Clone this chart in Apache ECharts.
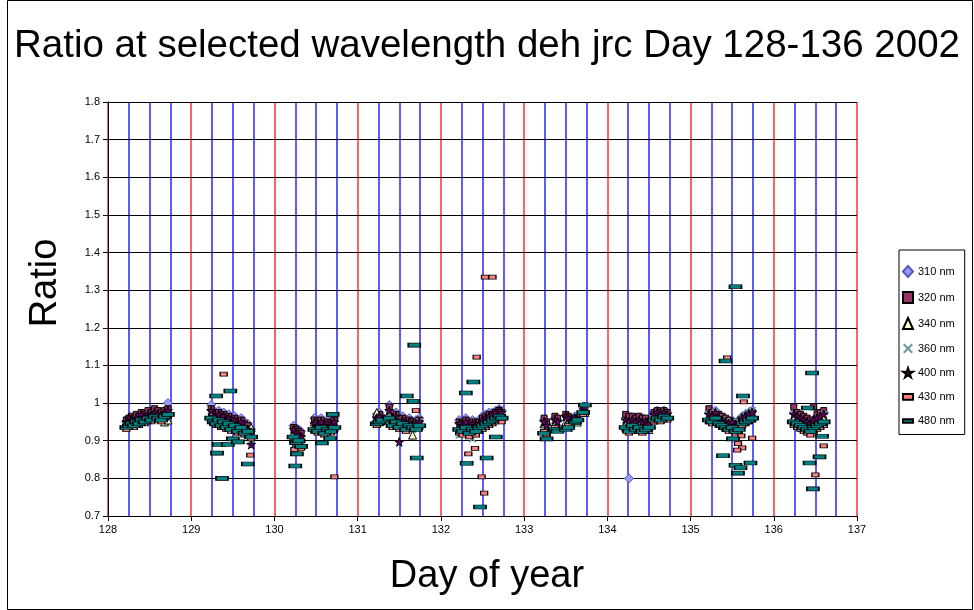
<!DOCTYPE html>
<html>
<head>
<meta charset="utf-8">
<title>Ratio at selected wavelength</title>
<script src="https://cdn.jsdelivr.net/npm/echarts@6/dist/echarts.min.js"></script>
<style>
    html, body { margin: 0; padding: 0; background: #fff; }
    #chart { width: 974px; height: 610px; }
</style>
</head>
<body>
<div id="chart"></div>
<script>
// measurement times (day of year), shared by all wavelengths
const times = [
    128.22,128.25,128.28,128.31,128.34,128.37,128.40,128.44,128.48,128.52,128.56,128.60,128.64,128.68,128.72,
    129.24,129.27,129.30,129.33,129.36,129.39,129.42,129.45,129.48,129.52,129.56,129.60,129.64,129.68,129.72,
    130.23,130.26,130.29,130.32,130.48,130.52,130.56,130.60,130.64,130.68,130.72,
    131.23,131.26,131.29,131.38,131.42,131.46,131.50,131.54,131.58,131.62,131.66,131.70,131.74,
    132.22,132.26,132.30,132.34,132.38,132.42,132.46,132.50,132.54,132.58,132.62,132.66,132.70,132.73,
    133.24,133.27,133.37,133.40,133.50,133.53,133.61,133.64,133.71,133.73,
    134.22,134.26,134.30,134.34,134.38,134.42,134.46,134.50,134.56,134.60,134.64,134.68,134.72,
    135.22,135.26,135.30,135.34,135.38,135.42,135.46,135.50,135.54,135.58,135.62,135.66,135.70,135.74,
    136.24,136.28,136.32,136.36,136.40,136.44,136.48,136.52,136.56,136.60
];

// ratios per wavelength, one line per day
const r310 = [
    0.95,0.955,0.96,0.955,0.965,0.96,0.97,0.965,0.975,0.97,0.98,0.975,0.97,0.98,1.0,
    0.995,0.98,0.975,0.98,0.97,0.975,0.965,0.97,0.96,0.965,0.955,0.96,0.95,0.945,0.93,
    0.94,0.935,0.93,0.925,0.96,0.955,0.96,0.95,0.955,0.95,0.96,
    0.97,0.975,0.965,0.995,0.97,0.975,0.96,0.965,0.955,0.96,0.95,0.955,0.96,
    0.955,0.95,0.96,0.945,0.955,0.95,0.955,0.965,0.97,0.975,0.975,0.98,0.985,0.98,
    0.955,0.945,0.96,0.955,0.965,0.96,0.965,0.96,0.985,0.99,
    0.96,0.8,0.96,0.955,0.96,0.955,0.955,0.95,0.975,0.98,0.975,0.98,0.975,
    0.975,0.97,0.98,0.965,0.96,0.955,0.95,0.955,0.945,0.955,0.965,0.97,0.975,0.98,
    0.975,0.97,0.965,0.96,0.955,0.95,0.955,0.965,0.97,0.975
];
const r320 = [
    0.955,0.96,0.965,0.96,0.97,0.965,0.975,0.97,0.98,0.975,0.985,0.98,0.975,0.98,0.985,
    0.985,0.975,0.97,0.975,0.965,0.97,0.96,0.965,0.955,0.96,0.95,0.955,0.945,0.94,0.925,
    0.935,0.93,0.925,0.92,0.955,0.95,0.955,0.945,0.95,0.945,0.955,
    0.965,0.97,0.96,0.99,0.965,0.97,0.955,0.96,0.95,0.955,0.95,0.95,0.955,
    0.95,0.945,0.955,0.94,0.95,0.945,0.95,0.96,0.965,0.97,0.97,0.975,0.98,0.975,
    0.96,0.95,0.965,0.96,0.97,0.965,0.96,0.955,0.98,0.985,
    0.97,0.965,0.965,0.96,0.965,0.96,0.96,0.95,0.975,0.98,0.975,0.98,0.975,
    0.985,0.975,0.97,0.97,0.965,0.96,0.955,0.95,0.95,0.95,0.96,0.965,0.97,0.975,
    0.99,0.975,0.97,0.965,0.96,0.955,0.99,0.97,0.975,0.98
];
const r340 = [
    0.945,0.95,0.955,0.95,0.96,0.955,0.965,0.96,0.97,0.965,0.975,0.97,0.965,0.95,0.955,
    0.97,0.955,0.95,0.96,0.945,0.955,0.94,0.95,0.935,0.945,0.93,0.94,0.93,0.92,0.935,
    0.92,0.915,0.91,0.905,0.95,0.94,0.945,0.935,0.94,0.935,0.945,
    0.975,0.96,0.955,0.975,0.955,0.96,0.945,0.95,0.94,0.945,0.915,0.94,0.945,
    0.94,0.935,0.945,0.93,0.94,0.935,0.94,0.95,0.955,0.96,0.965,0.97,0.975,0.97,
    0.945,0.935,0.945,0.94,0.95,0.945,0.955,0.95,0.98,0.975,
    0.945,0.94,0.95,0.945,0.945,0.94,0.94,0.93,0.955,0.96,0.96,0.965,0.965,
    0.965,0.96,0.965,0.955,0.95,0.945,0.94,0.945,0.935,0.94,0.955,0.96,0.965,0.97,
    0.96,0.955,0.95,0.945,0.94,0.935,0.945,0.95,0.955,0.96
];
const r360 = [
    0.94,0.945,0.95,0.945,0.955,0.95,0.96,0.955,0.965,0.96,0.97,0.965,0.96,0.97,0.975,
    0.965,0.95,0.945,0.955,0.94,0.95,0.935,0.945,0.93,0.94,0.925,0.935,0.925,0.915,0.9,
    0.915,0.905,0.905,0.895,0.94,0.935,0.94,0.93,0.935,0.93,0.94,
    0.955,0.96,0.95,0.97,0.95,0.955,0.94,0.95,0.935,0.945,0.93,0.935,0.95,
    0.915,0.93,0.94,0.925,0.905,0.93,0.935,0.945,0.95,0.955,0.96,0.965,0.97,0.965,
    0.935,0.925,0.94,0.935,0.945,0.94,0.95,0.945,0.985,0.98,
    0.94,0.935,0.945,0.94,0.94,0.935,0.935,0.93,0.96,0.965,0.96,0.97,0.965,
    0.97,0.965,0.975,0.96,0.955,0.95,0.945,0.95,0.94,0.95,0.96,0.965,0.975,0.98,
    0.965,0.96,0.955,0.95,0.945,0.94,0.95,0.955,0.96,0.97
];
const r400 = [
    0.95,0.96,0.955,0.95,0.96,0.955,0.97,0.96,0.97,0.965,0.975,0.97,0.965,0.975,0.98,
    0.98,0.965,0.96,0.97,0.955,0.965,0.95,0.96,0.945,0.955,0.94,0.95,0.935,0.93,0.89,
    0.93,0.92,0.915,0.91,0.945,0.94,0.95,0.94,0.945,0.94,0.95,
    0.96,0.965,0.955,0.98,0.96,0.965,0.897,0.955,0.945,0.95,0.94,0.945,0.95,
    0.945,0.94,0.95,0.935,0.945,0.94,0.945,0.955,0.96,0.965,0.97,0.975,0.98,0.975,
    0.95,0.94,0.955,0.95,0.965,0.96,0.96,0.955,0.99,0.99,
    0.955,0.95,0.955,0.95,0.955,0.95,0.95,0.945,0.97,0.975,0.97,0.975,0.97,
    0.97,0.965,0.975,0.96,0.955,0.95,0.945,0.95,0.94,0.945,0.96,0.965,0.97,0.975,
    0.97,0.965,0.96,0.955,0.95,0.945,0.955,0.96,0.965,0.97
];
const r430 = [
    0.93,0.945,0.94,0.935,0.945,0.94,0.95,0.945,0.955,0.95,0.96,0.955,0.95,0.96,0.965,
    0.955,0.945,0.94,0.95,0.935,0.945,0.93,0.94,0.925,0.935,0.92,0.93,0.915,0.92,0.905,
    0.9,0.89,0.895,0.88,0.925,0.92,0.93,0.915,0.925,0.92,0.93,
    0.94,0.945,0.95,0.955,0.935,0.945,0.93,0.94,0.925,0.935,0.93,0.98,0.935,
    0.92,0.915,0.925,0.91,0.92,0.915,0.925,0.93,0.935,0.94,0.945,0.95,0.955,0.95,
    0.925,0.915,0.935,0.93,0.935,0.94,0.95,0.95,0.97,0.975,
    0.93,0.92,0.935,0.925,0.93,0.92,0.925,0.93,0.95,0.955,0.95,0.96,0.955,
    0.95,0.945,0.955,0.94,0.935,0.93,0.925,0.93,0.92,0.925,0.94,0.945,0.95,0.955,
    0.94,0.935,0.93,0.925,0.92,0.915,0.925,0.93,0.935,0.94
];
const r480 = [
    0.935,0.94,0.945,0.94,0.95,0.945,0.955,0.95,0.96,0.955,0.965,0.96,0.955,0.965,0.97,
    0.96,0.95,0.945,0.955,0.94,0.95,0.935,0.945,0.93,0.94,0.925,0.935,0.92,0.925,0.91,
    0.91,0.895,0.9,0.885,0.93,0.925,0.935,0.92,0.93,0.925,0.935,
    0.945,0.95,0.955,0.96,0.94,0.95,0.935,0.945,0.93,0.94,0.935,0.93,0.94,
    0.93,0.925,0.935,0.92,0.93,0.925,0.935,0.94,0.945,0.95,0.955,0.96,0.965,0.96,
    0.92,0.905,0.93,0.925,0.93,0.935,0.95,0.955,0.975,0.995,
    0.935,0.925,0.94,0.93,0.935,0.925,0.93,0.935,0.955,0.96,0.955,0.965,0.96,
    0.955,0.95,0.96,0.945,0.94,0.935,0.93,0.935,0.925,0.93,0.945,0.95,0.955,0.96,
    0.95,0.945,0.94,0.935,0.93,0.925,0.935,0.94,0.945,0.95
];

// stray points off the clusters [day, ratio]
const extra430 = [
    [129.39,1.077],[129.71,0.862],[130.24,0.877],[130.72,0.804],
    [132.53,1.335],[132.62,1.335],[132.43,1.122],[132.33,0.865],[132.41,0.88],[132.49,0.804],[132.52,0.761],
    [135.44,1.12],[135.64,1.003],[135.61,0.913],[135.74,0.907],[135.57,0.892],[135.62,0.881],[135.56,0.875],
    [136.60,0.886],[136.50,0.809]
];
const extra480 = [
    [129.30,1.019],[129.47,1.032],[129.33,0.89],[129.31,0.867],[129.37,0.80],[129.44,0.89],[129.50,0.905],[129.56,0.897],[129.68,0.838],
    [130.25,0.833],[130.27,0.865],[130.57,0.894],[130.67,0.906],[130.70,0.97],
    [131.68,1.154],[131.59,1.019],[131.67,1.005],[131.71,0.854],
    [132.39,1.056],[132.30,1.027],[132.31,0.84],[132.55,0.854],[132.47,0.724],[132.66,0.91],
    [135.54,1.309],[135.42,1.112],[135.63,1.019],[135.51,0.905],[135.39,0.86],[135.54,0.835],[135.60,0.828],[135.57,0.814],[135.72,0.841],
    [136.46,1.08],[136.41,0.987],[136.58,0.912],[136.55,0.857],[136.43,0.841],[136.47,0.772]
];

const seriesNames = ['310 nm', '320 nm', '340 nm', '360 nm', '400 nm', '430 nm', '480 nm'];

const FONT = '"Liberation Sans", Arial, sans-serif';
const STAR = 'path://M50,0L61,35L98,35L68,57L79,91L50,70L21,91L32,57L2,35L39,35Z';
const CROSS = 'path://M0,15L15,0L50,35L85,0L100,15L65,50L100,85L85,100L50,65L15,100L0,85L35,50Z';

function toPairs(vals, extra) {
    const out = [];
    times.forEach(function (t, i) {
        if (vals[i] != null) out.push([t, vals[i]]);
    });
    return extra ? out.concat(extra) : out;
}

// marker look per series (Excel style)
const looks = [
    { data: toPairs(r310), symbol: 'diamond', size: [9, 9], color: '#9999ff', border: '#5a5ab4', icon: 'diamond' },
    { data: toPairs(r320), symbol: 'rect', size: [6, 6], color: '#993366', border: '#000', icon: 'rect' },
    { data: toPairs(r340), symbol: 'triangle', size: [8, 8], color: '#ffffcc', border: '#000', icon: 'triangle' },
    { data: toPairs(r360), symbol: CROSS, size: [8, 8], color: '#6d9b9b', border: null, icon: CROSS },
    { data: toPairs(r400), symbol: STAR, size: [9, 9], color: '#660066', border: '#000', icon: STAR },
    { data: toPairs(r430, extra430), symbol: 'rect', size: [7, 4], color: '#ff8080', border: '#000', icon: 'path://M0,0H7V4H0Z' },
    { data: toPairs(r480, extra480), symbol: 'rect', size: [12, 4], color: '#008080', border: '#000', icon: 'path://M0,0H12V4H0Z' }
];

const chart = echarts.init(document.getElementById('chart'), null, { renderer: 'canvas' });

const option = {
    animation: false,
    backgroundColor: '#fff',
    title: {
        text: 'Ratio at selected wavelength deh jrc Day 128-136 2002',
        left: 'center',
        top: 22,
        textStyle: { fontFamily: FONT, fontSize: 38.5, fontWeight: 'normal', color: '#000' }
    },
    legend: {
        orient: 'vertical',
        left: 899,
        top: 250,
        padding: [15, 10, 8, 3],
        itemWidth: 10,
        itemHeight: 11,
        itemGap: 13,
        borderColor: '#000',
        borderWidth: 1,
        textStyle: { fontFamily: FONT, fontSize: 11, color: '#000' },
        data: seriesNames.map(function (n, i) { return { name: n, icon: looks[i].icon }; })
    },
    grid: { left: 108, right: 117, top: 102, bottom: 94 },
    xAxis: [
        {
            type: 'value', min: 128, max: 137, interval: 1,
            axisLine: { onZero: false, lineStyle: { color: '#000', width: 1 } },
            axisTick: { show: true, length: 5, lineStyle: { color: '#000' } },
            axisLabel: { color: '#000', fontSize: 11, fontFamily: FONT, margin: 8 },
            splitLine: { show: false }
        },
        {
            // quarter-day guide lines: red at midnight, blue otherwise
            type: 'value', min: 128, max: 137, interval: 0.25, z: -1,
            axisLine: { show: false }, axisTick: { show: false }, axisLabel: { show: false },
            splitLine: { show: true, lineStyle: { color: ['#ff3030', '#2424ff', '#2424ff', '#2424ff'], width: 1.5 } }
        }
    ],
    yAxis: {
        type: 'value', min: 0.7, max: 1.8, interval: 0.1,
        axisLine: { show: true, onZero: false, lineStyle: { color: '#000', width: 1 } },
        axisTick: { show: true, length: 5, lineStyle: { color: '#000' } },
        axisLabel: { color: '#000', fontSize: 11, fontFamily: FONT, margin: 8 },
        splitLine: { show: true, lineStyle: { color: '#000', width: 1 } }
    },
    graphic: [
        {
            type: 'rect', silent: true, z: -10,
            shape: { x: 7.5, y: 0.5, width: 965, height: 609 },
            style: { fill: 'none', stroke: '#000', lineWidth: 1 }
        },
        {
            type: 'text', x: 46, y: 283, rotation: Math.PI / 2,
            style: { text: 'Ratio', font: '38px ' + FONT, fill: '#000', align: 'center', verticalAlign: 'middle', textAlign: 'center', textVerticalAlign: 'middle' }
        },
        {
            type: 'text', x: 487, y: 577,
            style: { text: 'Day of year', font: '38px ' + FONT, fill: '#000', align: 'center', verticalAlign: 'middle', textAlign: 'center', textVerticalAlign: 'middle' }
        }
    ],
    series: looks.map(function (l, i) {
        return {
            name: seriesNames[i],
            type: 'scatter',
            xAxisIndex: 0,
            symbol: l.symbol,
            symbolSize: l.size,
            itemStyle: {
                color: l.color,
                borderColor: l.border || l.color,
                borderWidth: l.border ? 1 : 0,
                opacity: 1
            },
            emphasis: { disabled: true },
            data: l.data
        };
    })
};

chart.setOption(option);
</script>
</body>
</html>
